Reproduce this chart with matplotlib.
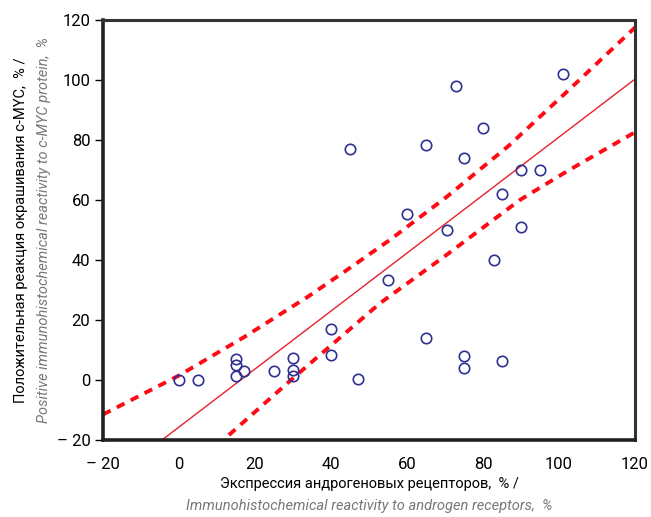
import matplotlib.pyplot as plt

# data
ar_expr = [0, 5, 15, 15, 15, 17, 25, 30, 30, 30, 40, 40, 47, 45, 55, 60, 65, 65,
           70.5, 73, 75, 75, 75, 80, 83, 85, 85, 90, 90, 95, 101]
cmyc = [0, 0, 7, 5, 1.5, 3, 3, 7.5, 3.5, 1.5, 17, 8.5, 0.5, 77, 33.5, 55.5, 78.5, 14,
        50, 98, 74, 8, 4, 84, 40, 62, 6.5, 70, 51, 70, 102]

fit_x = [-20, 120]
fit_y = [-35, 100.3]

upper_x = [-20, 0, 17, 33.6, 44, 55.5, 70.4, 86.7, 102, 120]
upper_y = [-11.5, 1.5, 14.2, 27.5, 36.5, 46.7, 61, 78, 96, 117.5]
lower_x = [5, 13, 30, 52.9, 70.4, 89.7, 102, 120]
lower_y = [-30, -18.5, 0.6, 25.6, 41.7, 60, 69.5, 82.6]

xticks = [-20, 0, 20, 40, 60, 80, 100, 120]
yticks = [-20, 0, 20, 40, 60, 80, 100, 120]

plt.rcParams["font.family"] = ["Roboto", "DejaVu Sans"]

fig = plt.figure(figsize=(6.51, 5.17), dpi=100)
ax = fig.add_axes([103 / 651, 1 - 440 / 517, 532 / 651, 420 / 517])

ax.plot(upper_x, upper_y, color="#ff0a14", lw=2.8, linestyle=(0, (2.2, 1.8)))
ax.plot(lower_x, lower_y, color="#ff0a14", lw=2.8, linestyle=(0, (2.2, 1.8)))
ax.plot(fit_x, fit_y, color="#e8202a", lw=1.0)
ax.plot(ar_expr, cmyc, linestyle="none", marker="o", markersize=7.5,
        markerfacecolor="none", markeredgecolor="#2e3192", markeredgewidth=1.2)

ax.set_xlim(-20, 120)
ax.set_ylim(-20, 120)
ax.set_xticks(xticks)
ax.set_yticks(yticks)
ax.set_xticklabels([str(t).replace("-", "\u2013 ") for t in xticks], fontsize=12)
ax.set_yticklabels([str(t).replace("-", "\u2013 ") for t in yticks], fontsize=12)
ax.tick_params(axis="x", length=0, pad=12)
ax.tick_params(axis="y", length=6, width=1, pad=3, direction="out")

for side in ["left", "bottom"]:
    ax.spines[side].set_linewidth(2.6)
    ax.spines[side].set_color("#222222")
for side in ["top", "right"]:
    ax.spines[side].set_linewidth(2.2)
    ax.spines[side].set_color("#333333")

fig.text(369 / 651, 1 - 484 / 517, "Экспрессия андрогеновых рецепторов,  % /",
         ha="center", va="center", fontsize=10.5, color="black")
fig.text(369 / 651, 1 - 506 / 517, "Immunohistochemical reactivity to androgen receptors,  %",
         ha="center", va="center", fontsize=10.5, color="#777777", style="italic")
fig.text(21 / 651, 1 - 230 / 517, "Положительная реакция окрашивания c-MYC,  % /",
         ha="center", va="center", rotation=90, fontsize=10.5, color="black")
fig.text(44 / 651, 1 - 230 / 517, "Positive immunohistochemical reactivity to c-MYC protein,  %",
         ha="center", va="center", rotation=90, fontsize=10.5, color="#777777", style="italic")

fig.savefig("out.png", dpi=100)
